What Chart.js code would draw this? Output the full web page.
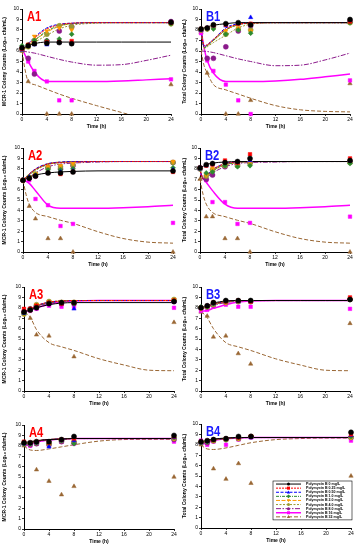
<!DOCTYPE html>
<html lang="en">
<head>
<meta charset="UTF-8">
<title>Polymyxin B time-kill</title>
<script src="https://cdn.jsdelivr.net/npm/chart.js"></script>
<style>
  body { margin: 0; background: #fff; }
  #wrap { position: relative; width: 360px; height: 550px; overflow: hidden; }
  canvas { position: absolute; }
</style>
</head>
<body>
<div id="wrap"></div>
<script>
// sampling times (h)
const times = [0, 1, 2, 4, 6, 8, 24];
const fitTimes = [0, 0.5, 1, 2, 4, 6, 8, 12, 16, 20, 24];
const doses = ['0', '0.25', '0.50', '1.0', '2.0', '4.0', '8.0', '16', '32'];
const xTicks = [0, 4, 8, 12, 16, 20, 24];
const yTicks = [0, 1, 2, 3, 4, 5, 6, 7, 8, 9, 10];

// observed counts, one row per dose, columns = times
const A1_obs = [
  [6.3, 6.5, 6.7, 6.75, 6.8, 6.7, 8.75],
  [6.2, 6.6, 6.7, 6.85, 6.85, 6.95, 8.7],
  [6.1, 6.5, 6.6, 6.6, 6.8, 6.8, 8.7],
  [6.5, 6.6, 7.0, 7.0, 7.15, 7.6, 8.6],
  [6.2, 6.6, 7.4, 7.9, 8.2, 8.0, 8.6],
  [6.1, 6.4, 7.0, 7.6, 8.4, 8.3, 8.6],
  [6.2, 5.3, 3.8, 6.95, 7.9, 8.3, 8.8],
  [6.2, 5.0, 4.1, 3.1, 1.3, 1.3, 3.3],
  [6.0, 3.1, null, 0, 0, 0, 2.8]
];
// model fits, columns = fitTimes
const A1_fit = [
  [6.2, 6.35, 6.5, 6.7, 6.85, 6.85, 6.85, 6.85, 6.85, 6.85, 6.85],
  [6.1, 6.35, 6.6, 7.2, 8.1, 8.5, 8.65, 8.7, 8.7, 8.7, 8.7],
  [6.1, 6.4, 6.7, 7.3, 8.2, 8.55, 8.65, 8.7, 8.7, 8.7, 8.7],
  [6.1, 6.3, 6.5, 7.0, 7.9, 8.4, 8.6, 8.7, 8.7, 8.7, 8.7],
  [6.1, 6.3, 6.5, 7.0, 7.8, 8.35, 8.6, 8.7, 8.7, 8.7, 8.7],
  [6.1, 6.25, 6.4, 6.8, 7.5, 8.1, 8.45, 8.65, 8.7, 8.7, 8.7],
  [6.0, 5.95, 5.9, 5.8, 5.5, 5.2, 4.95, 4.65, 4.7, 5.1, 5.6],
  [6.2, 5.6, 5.0, 4.0, 3.1, 3.1, 3.1, 3.1, 3.15, 3.25, 3.35],
  [6.0, 4.2, 3.1, 2.8, 2.35, 1.9, 1.5, 0.8, 0.15, -0.5, -1.1]
];

const B1_obs = [
  [8.1, 8.2, 8.5, 8.6, 8.7, 8.5, 9.0],
  [8.1, 8.2, 8.45, 8.5, 8.6, 8.6, 8.8],
  [8.0, 8.2, 8.4, 8.4, 8.6, 9.2, 8.9],
  [8.1, 8.1, 8.1, 7.6, 8.0, 7.7, 8.7],
  [8.0, 8.1, 8.3, 7.9, 8.2, 7.9, 8.75],
  [8.0, 8.1, 8.3, 7.6, 8.1, 8.0, 8.7],
  [8.0, 5.3, 5.3, 6.4, 7.9, 8.4, 8.8],
  [7.7, 5.1, 4.1, 2.8, 1.3, 0, 3.2],
  [7.8, 3.9, null, 0, 0, 1.3, 2.9]
];
const B1_fit = [
  [8.1, 8.2, 8.3, 8.45, 8.6, 8.7, 8.7, 8.7, 8.7, 8.7, 8.7],
  [8.0, 6.5, 6.6, 7.1, 8.1, 8.55, 8.65, 8.7, 8.7, 8.7, 8.7],
  [8.0, 6.4, 6.6, 7.1, 8.2, 8.6, 8.7, 8.7, 8.7, 8.7, 8.7],
  [8.0, 6.3, 6.5, 7.0, 8.0, 8.5, 8.65, 8.7, 8.7, 8.7, 8.7],
  [8.0, 6.3, 6.5, 7.0, 8.0, 8.5, 8.65, 8.7, 8.7, 8.7, 8.7],
  [6.0, 6.2, 6.4, 6.8, 7.5, 8.2, 8.55, 8.7, 8.7, 8.7, 8.7],
  [6.0, 5.98, 5.95, 5.85, 5.55, 5.25, 5.0, 4.6, 4.65, 5.15, 5.8],
  [8.0, 6.3, 5.1, 3.9, 3.1, 3.1, 3.1, 3.15, 3.3, 3.55, 3.8],
  [6.0, 4.6, 3.9, 2.8, 2.3, 1.9, 1.5, 0.8, 0.4, 0.25, 0.2]
];

const A2_obs = [
  [6.9, 7.1, 7.3, 7.6, 7.6, 7.7, 7.8],
  [6.9, 7.1, 7.3, 7.6, 7.5, 7.7, 7.7],
  [6.9, 7.2, 7.35, 7.6, 7.7, 7.8, 7.9],
  [6.9, 7.2, 7.4, 7.9, 7.9, 8.0, 8.1],
  [6.9, 7.2, 7.5, 8.2, 8.3, 8.5, 8.7],
  [6.9, 7.2, 7.5, 8.1, 8.2, 8.4, 8.6],
  [6.9, 7.1, 7.3, 8.1, 8.0, 8.3, 8.6],
  [6.9, 6.9, 5.1, 4.5, 2.5, 2.7, 2.8],
  [6.9, 4.4, 3.2, 1.3, 1.3, 0, 0]
];
const A2_fit = [
  [6.9, 7.05, 7.2, 7.4, 7.6, 7.7, 7.75, 7.8, 7.8, 7.8, 7.8],
  [6.9, 7.2, 7.5, 7.95, 8.45, 8.6, 8.65, 8.7, 8.7, 8.7, 8.7],
  [6.9, 7.2, 7.5, 8.0, 8.5, 8.65, 8.7, 8.7, 8.7, 8.7, 8.7],
  [6.9, 7.2, 7.45, 7.9, 8.45, 8.6, 8.7, 8.7, 8.7, 8.7, 8.7],
  [6.9, 7.2, 7.5, 7.95, 8.5, 8.65, 8.7, 8.7, 8.7, 8.7, 8.7],
  [6.9, 7.15, 7.4, 7.85, 8.4, 8.6, 8.65, 8.7, 8.7, 8.7, 8.7],
  [6.9, 7.0, 7.2, 7.6, 8.2, 8.45, 8.55, 8.65, 8.7, 8.7, 8.7],
  [6.9, 6.8, 6.6, 5.9, 4.5, 4.2, 4.2, 4.2, 4.25, 4.35, 4.5],
  [6.9, 5.5, 4.6, 3.8, 3.4, 3.05, 2.75, 1.95, 1.3, 0.95, 0.85]
];

const B2_obs = [
  [8.1, 8.4, 8.5, 8.6, 8.7, 9.0, 8.8],
  [8.1, 8.3, 8.4, 8.8, 8.6, 9.4, 9.0],
  [8.0, 8.3, 8.5, 8.7, 8.6, 8.8, 8.8],
  [8.0, 7.6, 7.7, 8.3, 8.2, 8.3, 8.5],
  [8.0, 7.4, 8.0, 8.4, 8.4, 8.6, 8.7],
  [8.0, 7.3, 7.9, 8.3, 8.3, 8.5, 8.6],
  [8.0, 7.0, 7.4, 8.2, 8.4, 8.6, 8.7],
  [8.1, 6.9, 4.8, 4.8, 2.7, 2.8, 3.4],
  [7.0, 3.4, 3.4, 1.3, 1.3, 0, 0]
];
const B2_fit = [
  [8.1, 8.25, 8.4, 8.55, 8.65, 8.7, 8.7, 8.7, 8.7, 8.7, 8.7],
  [8.0, 7.0, 7.3, 7.9, 8.5, 8.65, 8.7, 8.7, 8.7, 8.7, 8.7],
  [8.0, 7.0, 7.3, 7.9, 8.5, 8.65, 8.7, 8.7, 8.7, 8.7, 8.7],
  [8.0, 7.0, 7.2, 7.8, 8.4, 8.6, 8.7, 8.7, 8.7, 8.7, 8.7],
  [8.0, 7.0, 7.2, 7.8, 8.4, 8.6, 8.7, 8.7, 8.7, 8.7, 8.7],
  [7.0, 7.1, 7.2, 7.75, 8.35, 8.6, 8.7, 8.7, 8.7, 8.7, 8.7],
  [7.0, 7.05, 7.15, 7.6, 8.2, 8.5, 8.6, 8.65, 8.7, 8.7, 8.7],
  [7.6, 7.1, 6.7, 5.9, 4.6, 4.2, 4.2, 4.2, 4.25, 4.35, 4.5],
  [7.0, 5.5, 4.6, 3.8, 3.4, 3.05, 2.75, 1.95, 1.3, 0.95, 0.85]
];

const A3_obs = [
  [7.6, 7.8, 8.0, 8.4, 8.5, 8.5, 8.6],
  [7.9, 7.9, 8.2, 8.5, 8.4, 8.5, 8.7],
  [7.5, 7.8, 8.1, 8.4, 8.4, 7.9, 8.6],
  [7.5, 7.9, 8.2, 8.5, 8.5, 8.4, 8.7],
  [7.4, 7.9, 8.3, 8.6, 8.6, 8.6, 8.8],
  [7.4, 7.8, 8.3, 8.6, 8.5, 8.5, 8.8],
  [7.6, 7.9, 8.2, 8.5, 8.4, 8.4, 8.6],
  [7.7, 7.7, 7.9, 8.2, 8.1, 8.1, 8.0],
  [7.5, 7.0, 5.4, 5.3, null, 3.3, 6.6]
];
const A3_fit = [
  [7.6, 7.7, 7.8, 8.0, 8.3, 8.45, 8.5, 8.5, 8.5, 8.5, 8.5],
  [7.6, 7.75, 7.9, 8.2, 8.55, 8.65, 8.7, 8.7, 8.7, 8.7, 8.7],
  [7.6, 7.75, 7.9, 8.2, 8.55, 8.65, 8.7, 8.7, 8.7, 8.7, 8.7],
  [7.6, 7.7, 7.85, 8.15, 8.5, 8.65, 8.7, 8.7, 8.7, 8.7, 8.7],
  [7.6, 7.75, 7.9, 8.2, 8.55, 8.65, 8.7, 8.7, 8.7, 8.7, 8.7],
  [7.6, 7.7, 7.85, 8.15, 8.5, 8.65, 8.7, 8.7, 8.7, 8.7, 8.7],
  [7.6, 7.7, 7.8, 8.1, 8.45, 8.6, 8.7, 8.7, 8.7, 8.7, 8.7],
  [7.7, 7.7, 7.8, 8.0, 8.35, 8.55, 8.65, 8.7, 8.7, 8.7, 8.7],
  [7.5, 7.4, 7.1, 5.9, 4.65, 4.25, 3.9, 3.1, 2.5, 2.0, 1.95]
];

const B3_obs = [
  [8.0, 8.2, 8.5, 8.7, 8.7, 8.7, 8.8],
  [8.0, 8.2, 8.5, 8.6, 8.7, 8.6, 9.0],
  [8.0, 8.2, 8.4, 8.6, 8.6, 8.6, 8.9],
  [8.1, 8.1, 8.4, 8.6, 8.7, 8.7, 8.8],
  [7.9, 8.1, 8.4, 8.5, 8.6, 8.6, 8.8],
  [8.0, 8.1, 8.3, 8.5, 8.6, 8.6, 8.8],
  [8.0, 8.1, 8.3, 8.6, 8.6, 8.6, 8.8],
  [7.7, 7.8, 8.1, 8.3, 8.1, 8.1, 7.9],
  [7.6, 7.2, 5.2, 5.3, 3.6, 2.6, 6.5]
];
const B3_fit = [
  [8.0, 8.1, 8.2, 8.45, 8.65, 8.7, 8.7, 8.7, 8.7, 8.7, 8.7],
  [8.0, 8.05, 8.1, 8.35, 8.6, 8.7, 8.7, 8.7, 8.7, 8.7, 8.7],
  [8.0, 8.05, 8.1, 8.35, 8.6, 8.7, 8.7, 8.7, 8.7, 8.7, 8.7],
  [8.0, 8.05, 8.1, 8.3, 8.6, 8.7, 8.7, 8.7, 8.7, 8.7, 8.7],
  [8.0, 8.05, 8.1, 8.35, 8.6, 8.7, 8.7, 8.7, 8.7, 8.7, 8.7],
  [8.0, 8.0, 8.05, 8.3, 8.55, 8.65, 8.7, 8.7, 8.7, 8.7, 8.7],
  [8.0, 8.0, 8.05, 8.25, 8.5, 8.65, 8.7, 8.7, 8.7, 8.7, 8.7],
  [7.7, 7.7, 7.75, 7.95, 8.3, 8.55, 8.65, 8.7, 8.7, 8.7, 8.7],
  [7.6, 7.4, 7.05, 6.0, 4.65, 4.25, 3.9, 3.1, 2.5, 2.0, 1.95]
];

const A4_obs = [
  [8.3, 8.3, 8.4, 8.4, 8.6, 8.9, 9.0],
  [8.4, 8.3, 8.4, 8.3, 8.6, 8.7, 8.9],
  [8.2, 8.2, 8.3, 7.9, 8.5, 8.5, 8.8],
  [8.2, 8.2, 8.3, 8.2, 8.5, 8.2, 8.8],
  [8.3, 8.2, 8.3, 8.3, 8.5, 8.4, 8.7],
  [8.2, 8.2, 8.3, 8.2, 8.5, 8.4, 8.7],
  [8.2, 8.1, 8.2, 8.1, 8.4, 8.3, 8.6],
  [8.3, 8.0, 8.2, 8.1, 8.4, 8.2, 8.4],
  [8.0, null, 5.7, 4.6, 3.3, 4.1, 5.0]
];
const A4_fit = [
  [8.3, 8.35, 8.4, 8.5, 8.6, 8.65, 8.7, 8.7, 8.7, 8.7, 8.7],
  [8.1, 8.2, 8.3, 8.45, 8.6, 8.65, 8.7, 8.7, 8.7, 8.7, 8.7],
  [8.1, 8.2, 8.3, 8.45, 8.6, 8.65, 8.7, 8.7, 8.7, 8.7, 8.7],
  [8.1, 8.2, 8.3, 8.45, 8.6, 8.65, 8.7, 8.7, 8.7, 8.7, 8.7],
  [8.1, 8.2, 8.3, 8.45, 8.6, 8.65, 8.7, 8.7, 8.7, 8.7, 8.7],
  [8.1, 8.2, 8.3, 8.45, 8.6, 8.65, 8.7, 8.7, 8.7, 8.7, 8.7],
  [8.1, 8.15, 8.25, 8.4, 8.55, 8.65, 8.7, 8.7, 8.7, 8.7, 8.7],
  [8.0, 8.05, 8.15, 8.35, 8.55, 8.65, 8.7, 8.7, 8.7, 8.7, 8.7],
  [8.0, 7.75, 7.6, 7.55, 7.7, 7.9, 8.1, 8.45, 8.6, 8.62, 8.62]
];

const B4_obs = [
  [8.3, 8.4, 8.5, 8.6, 8.8, 8.8, 9.2],
  [8.3, 8.4, 8.5, 8.6, 8.7, 8.8, 9.0],
  [8.2, 8.3, 8.5, 8.6, 8.7, 8.7, 8.9],
  [8.2, 8.3, 8.5, 8.5, 8.7, 8.8, 8.8],
  [8.2, 8.3, 8.4, 8.5, 8.6, 8.8, 8.7],
  [8.2, 8.3, 8.4, 8.5, 8.6, 8.8, 8.7],
  [8.2, 8.2, 8.4, 8.5, 8.6, 8.8, 8.7],
  [8.4, 8.0, 8.3, 8.0, 8.5, 8.7, 8.4],
  [8.0, null, 5.7, 4.7, 6.2, 4.3, 5.0]
];
const B4_fit = [
  [8.3, 8.35, 8.45, 8.55, 8.65, 8.7, 8.7, 8.7, 8.7, 8.7, 8.7],
  [8.2, 8.25, 8.35, 8.5, 8.6, 8.7, 8.7, 8.7, 8.7, 8.7, 8.7],
  [8.2, 8.25, 8.35, 8.5, 8.6, 8.7, 8.7, 8.7, 8.7, 8.7, 8.7],
  [8.2, 8.25, 8.35, 8.5, 8.6, 8.7, 8.7, 8.7, 8.7, 8.7, 8.7],
  [8.2, 8.25, 8.35, 8.5, 8.6, 8.7, 8.7, 8.7, 8.7, 8.7, 8.7],
  [8.2, 8.25, 8.35, 8.5, 8.6, 8.7, 8.7, 8.7, 8.7, 8.7, 8.7],
  [8.2, 8.2, 8.3, 8.45, 8.6, 8.65, 8.7, 8.7, 8.7, 8.7, 8.7],
  [8.1, 8.1, 8.2, 8.4, 8.6, 8.65, 8.7, 8.7, 8.7, 8.7, 8.7],
  [8.0, 7.75, 7.6, 7.55, 7.7, 7.95, 8.2, 8.5, 8.6, 8.65, 8.65]
];

const FONT = '"Liberation Sans", Arial, sans-serif';

// one style per dose
const styles = [
  { color: '#000000', dash: [], marker: 'circle', width: 1 },
  { color: '#ff0000', dash: [2, 1], marker: 'rect', width: 1 },
  { color: '#0000ff', dash: [3, 1.5], marker: 'triangle', width: 1 },
  { color: '#2e8b2e', dash: [3, 1, 1, 1], marker: 'rectRot', width: 1 },
  { color: '#ff9900', dash: [4, 1.5], marker: 'triangle', rot: 180, width: 1 },
  { color: '#999933', dash: [2, 1.5], marker: 'circle', width: 1 },
  { color: '#8b1a8b', dash: [5, 1.5, 1.5, 1.5], marker: 'circle', width: 1 },
  { color: '#ff00ff', dash: [], marker: 'rect', width: 1.5 },
  { color: '#996633', dash: [4, 2], marker: 'triangle', width: 1 }
];

const mcrTitle = 'MCR-1 Colony Counts (Log\u2081\u2080 cfu/mL)';
const totTitle = 'Total Colony Counts (Log\u2081\u2080 cfu/mL)';

const panels = [
  { label: 'A1', x: 0,   y: 0,   L: 22, R: 171, T: 9,  B: 114, obs: A1_obs, fit: A1_fit, title: mcrTitle, color: '#ff0000' },
  { label: 'B1', x: 180, y: 0,   L: 21, R: 170, T: 9,  B: 114, obs: B1_obs, fit: B1_fit, title: totTitle, color: '#1a1aff' },
  { label: 'A2', x: 0,   y: 135, L: 23, R: 173, T: 13, B: 117, obs: A2_obs, fit: A2_fit, title: mcrTitle, color: '#ff0000' },
  { label: 'B2', x: 180, y: 135, L: 20, R: 170, T: 13, B: 117, obs: B2_obs, fit: B2_fit, title: totTitle, color: '#1a1aff' },
  { label: 'A3', x: 0,   y: 275, L: 24, R: 174, T: 12, B: 116, obs: A3_obs, fit: A3_fit, title: mcrTitle, color: '#ff0000' },
  { label: 'B3', x: 180, y: 275, L: 21, R: 170, T: 12, B: 116, obs: B3_obs, fit: B3_fit, title: totTitle, color: '#1a1aff' },
  { label: 'A4', x: 0,   y: 410, L: 24, R: 174, T: 15, B: 119, obs: A4_obs, fit: A4_fit, title: mcrTitle, color: '#ff0000' },
  { label: 'B4', x: 180, y: 410, L: 21, R: 171, T: 14, B: 118, obs: B4_obs, fit: B4_fit, title: totTitle, color: '#1a1aff', legend: true }
];

function drawMarker(ctx, style, x, y, r, rot) {
  ctx.beginPath();
  if (style === 'circle') {
    ctx.arc(x, y, r, 0, Math.PI * 2);
  } else if (style === 'rect') {
    ctx.rect(x - r, y - r, 2 * r, 2 * r);
  } else if (style === 'rectRot') {
    ctx.moveTo(x, y - r * 1.3); ctx.lineTo(x + r * 1.3, y);
    ctx.lineTo(x, y + r * 1.3); ctx.lineTo(x - r * 1.3, y); ctx.closePath();
  } else {
    const s = rot ? -1 : 1;
    ctx.moveTo(x, y - s * r * 1.2); ctx.lineTo(x + r * 1.1, y + s * r * 0.8);
    ctx.lineTo(x - r * 1.1, y + s * r * 0.8); ctx.closePath();
  }
  ctx.fill();
}

// big red/blue panel tag
const panelLabel = {
  id: 'panelLabel',
  afterDatasetsDraw(chart, args, opts) {
    const ctx = chart.ctx, a = chart.chartArea;
    ctx.save();
    ctx.font = 'bold 14px ' + FONT;
    ctx.fillStyle = opts.color;
    ctx.textBaseline = 'top';
    ctx.translate(a.left + 5, a.top + 1);
    ctx.scale(0.8, 1);
    ctx.fillText(opts.text, 0, 0);
    ctx.restore();
  }
};

// legend box drawn inside B4
const legendBox = {
  id: 'legendBox',
  afterDraw(chart) {
    const ctx = chart.ctx;
    const bx = 93, by = 71, bw = 79, rowH = 4.1;
    const bh = rowH * doses.length + 2;
    ctx.save();
    ctx.fillStyle = '#fff';
    ctx.fillRect(bx, by, bw, bh);
    ctx.strokeStyle = '#000';
    ctx.lineWidth = 0.6;
    ctx.strokeRect(bx, by, bw, bh);
    styles.forEach((s, i) => {
      const y = by + 1 + rowH * (i + 0.5);
      ctx.strokeStyle = s.color;
      ctx.lineWidth = s.width;
      ctx.setLineDash(s.dash);
      ctx.beginPath(); ctx.moveTo(bx + 3, y); ctx.lineTo(bx + 28, y); ctx.stroke();
      ctx.setLineDash([]);
      ctx.fillStyle = s.color;
      drawMarker(ctx, s.marker, bx + 15.5, y, 1.5, s.rot);
      ctx.fillStyle = '#000';
      ctx.font = 'bold 3.6px ' + FONT;
      ctx.textBaseline = 'middle';
      ctx.fillText('Polymyxin B ' + doses[i] + ' mg/L', bx + 33, y);
    });
    ctx.restore();
  }
};

const wrap = document.getElementById('wrap');

panels.forEach(p => {
  const W = 180, H = p.B + 17;
  const canvas = document.createElement('canvas');
  canvas.width = W; canvas.height = H;
  canvas.style.left = p.x + 'px'; canvas.style.top = p.y + 'px';
  canvas.style.width = W + 'px'; canvas.style.height = H + 'px';
  wrap.appendChild(canvas);

  const datasets = [];
  styles.forEach((s, i) => {
    datasets.push({
      label: doses[i] + ' fit',
      data: fitTimes.map((t, j) => ({ x: t, y: p.fit[i][j] })),
      showLine: true, pointRadius: 0,
      borderColor: s.color, borderWidth: s.width, borderDash: s.dash,
      cubicInterpolationMode: 'monotone', fill: false, order: 20 + i
    });
    datasets.push({
      label: doses[i],
      data: times.map((t, j) => ({ x: t, y: p.obs[i][j] })).filter(d => d.y !== null),
      showLine: false, pointStyle: s.marker, pointRotation: s.rot || 0, pointRadius: 2.5,
      backgroundColor: s.color, borderColor: s.color, borderWidth: 0.5, order: 10 + i,
      clip: false
    });
  });

  const axisCommon = {
    grid: { drawOnChartArea: false, color: '#000', tickLength: 2, lineWidth: 0.8 },
    border: { color: '#000', width: 1 },
    ticks: { font: { size: 5, family: FONT }, color: '#000', padding: 1, autoSkip: false, maxRotation: 0 }
  };

  new Chart(canvas, {
    type: 'scatter',
    data: { datasets },
    options: {
      responsive: false, animation: false, devicePixelRatio: 1,
      layout: { padding: { left: 0, right: W - p.R, top: p.T, bottom: 0 } },
      plugins: {
        legend: { display: false }, tooltip: { enabled: false },
        panelLabel: { text: p.label, color: p.color }
      },
      scales: {
        x: Object.assign({}, axisCommon, {
          type: 'linear', min: 0, max: 24,
          afterBuildTicks: s => { s.ticks = xTicks.map(v => ({ value: v })); },
          afterFit: s => { s.height = H - p.B; },
          title: { display: true, text: 'Time (h)', color: '#000', font: { size: 5, weight: 'bold', family: FONT }, padding: { top: 2, bottom: 1 } }
        }),
        y: Object.assign({}, axisCommon, {
          type: 'linear', min: 0, max: 10,
          afterBuildTicks: s => { s.ticks = yTicks.map(v => ({ value: v })); },
          afterFit: s => { s.width = p.L; },
          title: { display: true, text: p.title, color: '#000', font: { size: 5, weight: 'bold', family: FONT }, padding: { top: 2, bottom: 1 } }
        })
      }
    },
    plugins: p.legend ? [panelLabel, legendBox] : [panelLabel]
  });
});
</script>
</body>
</html>
